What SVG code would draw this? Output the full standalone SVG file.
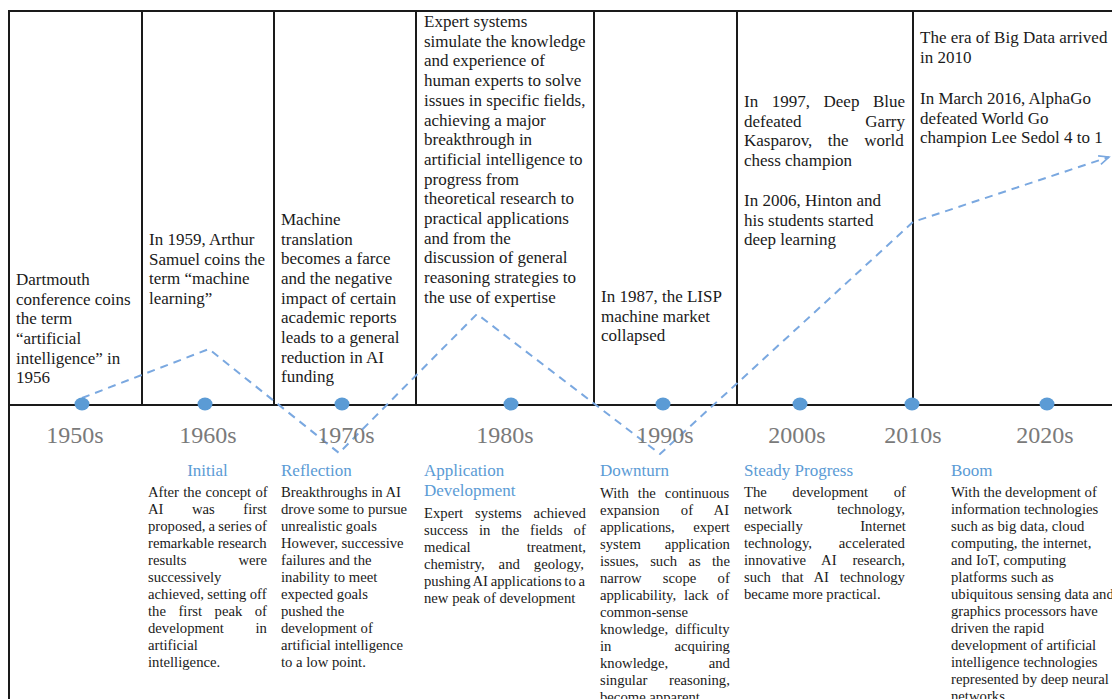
<svg xmlns="http://www.w3.org/2000/svg" width="1112" height="699" viewBox="0 0 1112 699">
<style>
.top{font-family:"Liberation Serif","Times New Roman",serif;font-size:17px;fill:#1a1a1a}
.body{font-family:"Liberation Serif","Times New Roman",serif;font-size:14.7px;fill:#1a1a1a}
.ttl{font-family:"Liberation Serif","Times New Roman",serif;font-size:17px;fill:#5b9bd5}
.dec{font-family:"Liberation Serif","Times New Roman",serif;font-size:24px;fill:#7a7a7a;text-anchor:middle}
.frame{stroke:#1a1a1a;stroke-width:2;fill:none}
.dot{fill:#5b9bd5}
.trend{stroke:#7aa8e0;stroke-width:2;stroke-dasharray:8 6;fill:none}
</style>
<defs>
<marker id="arr" markerUnits="userSpaceOnUse" markerWidth="14" markerHeight="12" refX="11" refY="5" orient="auto">
<path d="M1,0.5 L11,5 L1,9.5" fill="none" stroke="#7aa8e0" stroke-width="1.6"/>
</marker>
</defs>
<rect width="1112" height="699" fill="#ffffff"/>
<g id="frame">
<line class="frame" x1="8" y1="11" x2="1112" y2="11" stroke-width="1.6"/>
<line class="frame" x1="9" y1="11" x2="9" y2="699"/>
<line class="frame" x1="9" y1="405" x2="1112" y2="405"/>
<line class="frame" x1="142" y1="11" x2="142" y2="405"/>
<line class="frame" x1="274" y1="11" x2="274" y2="405"/>
<line class="frame" x1="416" y1="11" x2="416" y2="405"/>
<line class="frame" x1="594" y1="11" x2="594" y2="405"/>
<line class="frame" x1="737" y1="11" x2="737" y2="405"/>
<line class="frame" x1="913" y1="11" x2="913" y2="405"/>
</g>
<g id="connectors">
<polyline class="trend" points="82,398 209,349 339,453 477,314 660,454 913,222 1109,157" marker-end="url(#arr)"/>
</g>
<g id="era-1950s">
<text class="top" x="16" y="285">Dartmouth</text>
<text class="top" x="16" y="305">conference coins</text>
<text class="top" x="16" y="324">the term</text>
<text class="top" x="16" y="344">“artificial</text>
<text class="top" x="16" y="364">intelligence” in</text>
<text class="top" x="16" y="383">1956</text>
<ellipse class="dot" cx="82" cy="404" rx="7.5" ry="6.5"/>
<text class="dec" x="75" y="443">1950s</text>
</g>
<g id="era-1960s">
<text class="top" x="149" y="245">In 1959, Arthur</text>
<text class="top" x="149" y="265">Samuel coins the</text>
<text class="top" x="149" y="284">term “machine</text>
<text class="top" x="149" y="304">learning”</text>
<ellipse class="dot" cx="205" cy="404" rx="7.5" ry="6.5"/>
<text class="dec" x="208" y="443">1960s</text>
<text class="ttl" x="207.5" y="476" text-anchor="middle">Initial</text>
<text class="body" x="148" y="497" word-spacing="0.6">After the concept of</text>
<text class="body" x="148" y="514" word-spacing="24.8">AI was first</text>
<text class="body" x="148" y="531" word-spacing="-0.6">proposed, a series of</text>
<text class="body" x="148" y="548">remarkable research</text>
<text class="body" x="148" y="565" word-spacing="48.4">results were</text>
<text class="body" x="148" y="582">successively</text>
<text class="body" x="148" y="599" word-spacing="-0.3">achieved, setting off</text>
<text class="body" x="148" y="616" word-spacing="8.8">the first peak of</text>
<text class="body" x="148" y="633" word-spacing="27.9">development in</text>
<text class="body" x="148" y="650">artificial</text>
<text class="body" x="148" y="667">intelligence.</text>
</g>
<g id="era-1970s">
<text class="top" x="281" y="225">Machine</text>
<text class="top" x="281" y="245">translation</text>
<text class="top" x="281" y="264">becomes a farce</text>
<text class="top" x="281" y="284">and the negative</text>
<text class="top" x="281" y="304">impact of certain</text>
<text class="top" x="281" y="323">academic reports</text>
<text class="top" x="281" y="343">leads to a general</text>
<text class="top" x="281" y="363">reduction in AI</text>
<text class="top" x="281" y="382">funding</text>
<ellipse class="dot" cx="342" cy="404" rx="7.5" ry="6.5"/>
<text class="dec" x="346" y="443">1970s</text>
<text class="ttl" x="281" y="476">Reflection</text>
<text class="body" x="281" y="497">Breakthroughs in AI</text>
<text class="body" x="281" y="514">drove some to pursue</text>
<text class="body" x="281" y="531">unrealistic goals</text>
<text class="body" x="281" y="548">However, successive</text>
<text class="body" x="281" y="565">failures and the</text>
<text class="body" x="281" y="582">inability to meet</text>
<text class="body" x="281" y="599">expected goals</text>
<text class="body" x="281" y="616">pushed the</text>
<text class="body" x="281" y="633">development of</text>
<text class="body" x="281" y="650">artificial intelligence</text>
<text class="body" x="281" y="667">to a low point.</text>
</g>
<g id="era-1980s">
<text class="top" x="424" y="27">Expert systems</text>
<text class="top" x="424" y="46.7">simulate the knowledge</text>
<text class="top" x="424" y="66.4">and experience of</text>
<text class="top" x="424" y="86.1">human experts to solve</text>
<text class="top" x="424" y="105.8">issues in specific fields,</text>
<text class="top" x="424" y="125.5">achieving a major</text>
<text class="top" x="424" y="145.2">breakthrough in</text>
<text class="top" x="424" y="164.9">artificial intelligence to</text>
<text class="top" x="424" y="184.6">progress from</text>
<text class="top" x="424" y="204.3">theoretical research to</text>
<text class="top" x="424" y="224">practical applications</text>
<text class="top" x="424" y="243.7">and from the</text>
<text class="top" x="424" y="263.4">discussion of general</text>
<text class="top" x="424" y="283.1">reasoning strategies to</text>
<text class="top" x="424" y="302.8">the use of expertise</text>
<ellipse class="dot" cx="511" cy="404" rx="7.5" ry="6.5"/>
<text class="dec" x="505" y="443">1980s</text>
<text class="ttl" x="424" y="476">Application</text>
<text class="ttl" x="424" y="496">Development</text>
<text class="body" x="424" y="518" word-spacing="8.3">Expert systems achieved</text>
<text class="body" x="424" y="535" word-spacing="7.2">success in the fields of</text>
<text class="body" x="424" y="552" word-spacing="52.6">medical treatment,</text>
<text class="body" x="424" y="569" word-spacing="10.3">chemistry, and geology,</text>
<text class="body" x="424" y="586" word-spacing="-0.95">pushing AI applications to a</text>
<text class="body" x="424" y="603">new peak of development</text>
</g>
<g id="era-1990s">
<text class="top" x="601" y="302">In 1987, the LISP</text>
<text class="top" x="601" y="321.5">machine market</text>
<text class="top" x="601" y="341">collapsed</text>
<ellipse class="dot" cx="663" cy="404" rx="7.5" ry="6.5"/>
<text class="dec" x="665" y="443">1990s</text>
<text class="ttl" x="600" y="476">Downturn</text>
<text class="body" x="600" y="498" word-spacing="5.4">With the continuous</text>
<text class="body" x="600" y="515" word-spacing="17.6">expansion of AI</text>
<text class="body" x="600" y="532" word-spacing="14.9">applications, expert</text>
<text class="body" x="600" y="549" word-spacing="20.2">system application</text>
<text class="body" x="600" y="566" word-spacing="7.7">issues, such as the</text>
<text class="body" x="600" y="583" word-spacing="17.6">narrow scope of</text>
<text class="body" x="600" y="600" word-spacing="4.3">applicability, lack of</text>
<text class="body" x="600" y="617">common-sense</text>
<text class="body" x="600" y="634" word-spacing="3.4">knowledge, difficulty</text>
<text class="body" x="600" y="651" word-spacing="59.4">in acquiring</text>
<text class="body" x="600" y="668" word-spacing="36.9">knowledge, and</text>
<text class="body" x="600" y="685" word-spacing="18.1">singular reasoning,</text>
<text class="body" x="600" y="702">become apparent.</text>
</g>
<g id="era-2000s">
<text class="top" x="744" y="107" word-spacing="9.3">In 1997, Deep Blue</text>
<text class="top" x="744" y="126.5" word-spacing="59.5">defeated Garry</text>
<text class="top" x="744" y="146" word-spacing="11.3">Kasparov, the world</text>
<text class="top" x="744" y="165.5">chess champion</text>
<text class="top" x="744" y="206">In 2006, Hinton and</text>
<text class="top" x="744" y="225.5">his students started</text>
<text class="top" x="744" y="245">deep learning</text>
<ellipse class="dot" cx="800" cy="404" rx="7.5" ry="6.5"/>
<text class="dec" x="797" y="443">2000s</text>
<text class="ttl" x="744" y="476">Steady Progress</text>
<text class="body" x="744" y="497" word-spacing="21.8">The development of</text>
<text class="body" x="744" y="514" word-spacing="41.2">network technology,</text>
<text class="body" x="744" y="531" word-spacing="53.8">especially Internet</text>
<text class="body" x="744" y="548" word-spacing="23.2">technology, accelerated</text>
<text class="body" x="744" y="565" word-spacing="12.2">innovative AI research,</text>
<text class="body" x="744" y="582" word-spacing="7">such that AI technology</text>
<text class="body" x="744" y="599">became more practical.</text>
</g>
<g id="era-2010s">
<text class="top" x="920" y="43">The era of Big Data arrived</text>
<text class="top" x="920" y="63">in 2010</text>
<text class="top" x="920" y="104">In March 2016, AlphaGo</text>
<text class="top" x="920" y="123.5">defeated World Go</text>
<text class="top" x="920" y="143">champion Lee Sedol 4 to 1</text>
<ellipse class="dot" cx="912" cy="404" rx="7.5" ry="6.5"/>
<text class="dec" x="913" y="443">2010s</text>
</g>
<g id="era-2020s">
<ellipse class="dot" cx="1047" cy="404" rx="7.5" ry="6.5"/>
<text class="dec" x="1045" y="443">2020s</text>
<text class="ttl" x="951" y="476">Boom</text>
<text class="body" x="951" y="497">With the development of</text>
<text class="body" x="951" y="514">information technologies</text>
<text class="body" x="951" y="531">such as big data, cloud</text>
<text class="body" x="951" y="548">computing, the internet,</text>
<text class="body" x="951" y="565">and IoT, computing</text>
<text class="body" x="951" y="582">platforms such as</text>
<text class="body" x="951" y="599">ubiquitous sensing data and</text>
<text class="body" x="951" y="616">graphics processors have</text>
<text class="body" x="951" y="633">driven the rapid</text>
<text class="body" x="951" y="650">development of artificial</text>
<text class="body" x="951" y="667">intelligence technologies</text>
<text class="body" x="951" y="684">represented by deep neural</text>
<text class="body" x="951" y="701">networks.</text>
</g>
</svg>
